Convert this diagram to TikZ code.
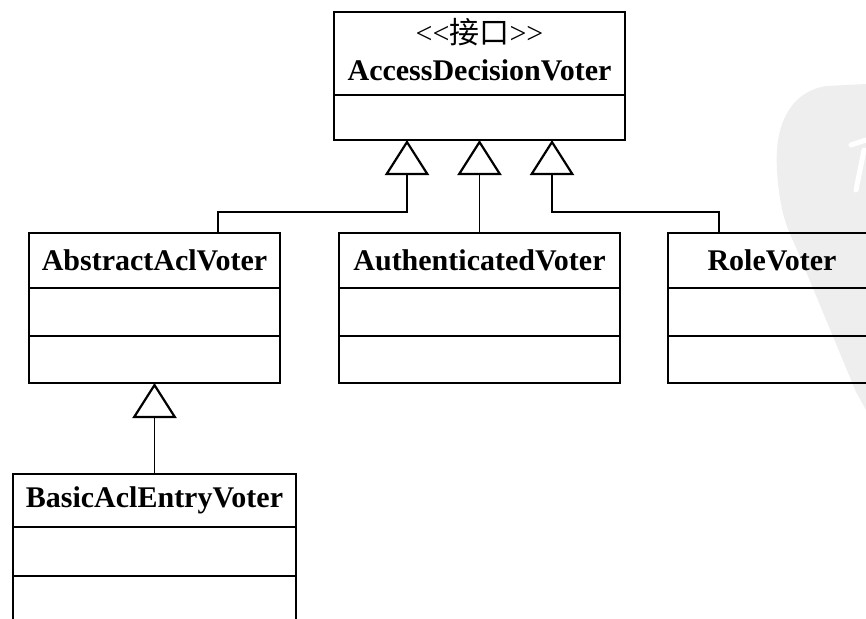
\documentclass[tikz,border=0pt]{standalone}
\usepackage{fontspec}
\setmainfont{Liberation Serif}
\newfontfamily\cjk{Noto Sans CJK SC}
\usetikzlibrary{arrows.meta}
\definecolor{wmark}{HTML}{EEEEEE}

\begin{document}
\begin{tikzpicture}[x=1pt,y=-1pt,
  head/.style={draw,line width=2.6pt,inner sep=0pt,outer sep=0pt,anchor=north,minimum height=55pt,font=\fontsize{30}{37}\selectfont\bfseries},
  comp/.style={draw,line width=2.6pt,inner sep=0pt,outer sep=0pt,anchor=north,minimum height=48pt},
  gen/.style={line width=1.8pt,-{Triangle[open,length=35pt,width=44pt,line width=2.2pt]}}]
\path[use as bounding box] (0,0) rectangle (866,618);
\fill[wmark] (866,84) -- (826,86) .. controls (790,92) and (774,125) .. (777,170) .. controls (779,205) and (785,225) .. (795,245) -- (856,392) -- (866,410) -- cycle;
\draw[white,line width=5pt,line cap=round] (851,145) -- (866,140) (864,150) -- (856,190);
\node[head,minimum width=291pt,minimum height=83pt] (iface) at (479.5,12) {\raisebox{-1.5pt}[\height][\depth]{\begin{tabular}{@{}c@{}}{\mdseries <\kern0pt<{\cjk 接口}>\kern0pt>}\\AccessDecisionVoter\end{tabular}}};
\node[comp,minimum width=291pt,minimum height=45pt] (iface1) at (iface.south) {};
\node[head,minimum width=251pt] (abs) at (154.5,233) {AbstractAclVoter};
\node[comp,minimum width=251pt] (abs1) at (abs.south) {};
\node[comp,minimum width=251pt,minimum height=47pt] (abs2) at (abs1.south) {};
\node[head,minimum width=281pt] (auth) at (479.5,233) {AuthenticatedVoter};
\node[comp,minimum width=281pt] (auth1) at (auth.south) {};
\node[comp,minimum width=281pt,minimum height=47pt] (auth2) at (auth1.south) {};
\node[head,minimum width=208pt] (role) at (772,233) {RoleVoter};
\node[comp,minimum width=208pt] (role1) at (role.south) {};
\node[comp,minimum width=208pt,minimum height=47pt] (role2) at (role1.south) {};
\node[head,minimum width=283pt,minimum height=53pt] (basic) at (154.5,474) {BasicAclEntryVoter};
\node[comp,minimum width=283pt,minimum height=49pt] (basic1) at (basic.south) {};
\node[comp,minimum width=283pt,minimum height=60pt] (basic2) at (basic1.south) {};
\draw[gen] ([xshift=63.5pt]abs.north) |- ([xshift=-72.5pt,yshift=-72pt]iface1.south) -- ([xshift=-72.5pt]iface1.south);
\draw[gen] (auth.north) -- (auth.north |- iface1.south);
\draw[gen] ([xshift=-53pt]role.north) |- ([xshift=72.5pt,yshift=-72pt]iface1.south) -- ([xshift=72.5pt]iface1.south);
\draw[gen] (basic.north) -- (abs2.south);
\end{tikzpicture}
\end{document}
